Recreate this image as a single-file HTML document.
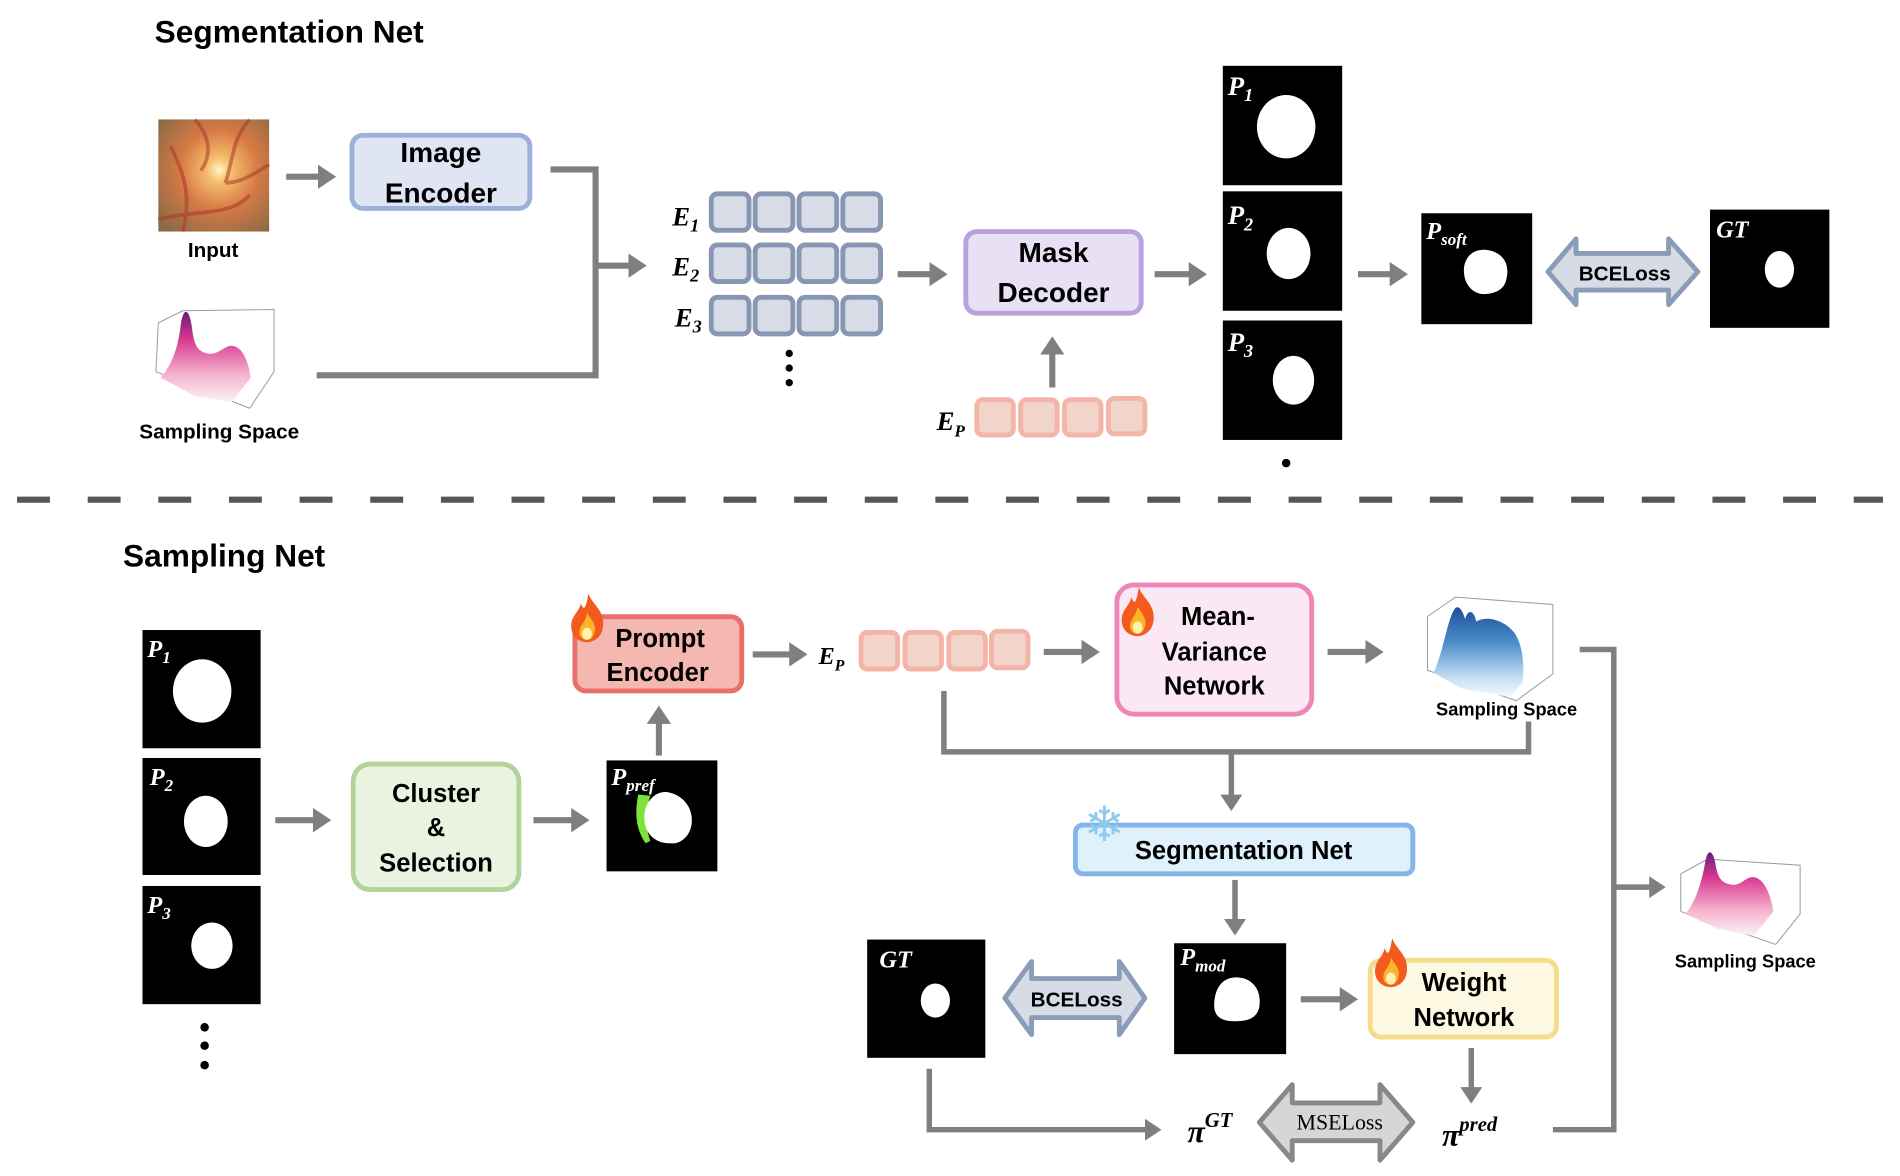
<!DOCTYPE html>
<html><head><meta charset="utf-8"><style>
html,body{margin:0;padding:0;background:#fff}
svg{display:block}
.t{font-family:"Liberation Sans",sans-serif;font-weight:bold;fill:#000}
.m{font-family:"Liberation Serif",serif;font-weight:bold;font-style:italic;fill:#000}
.mw{font-family:"Liberation Serif",serif;font-weight:bold;font-style:italic;fill:#fff}
</style></head><body>
<svg width="1900" height="1176" viewBox="0 0 1560 965" preserveAspectRatio="none" xmlns="http://www.w3.org/2000/svg">
<defs>
<marker id="ah" markerWidth="4" markerHeight="4" refX="2.2" refY="2" orient="auto" markerUnits="strokeWidth">
<path d="M0,0 L3,2 L0,4 Z" fill="#7f7f7f"/></marker>
<radialGradient id="fund" cx="0.55" cy="0.45" r="0.7">
<stop offset="0" stop-color="#fff6c0"/><stop offset="0.15" stop-color="#f6c070"/><stop offset="0.5" stop-color="#d77a45"/><stop offset="1" stop-color="#8a6a45"/></radialGradient>
<linearGradient id="pink" x1="0" y1="0" x2="0" y2="1"><stop offset="0" stop-color="#6a1a7a"/><stop offset="0.3" stop-color="#d8388f"/><stop offset="0.7" stop-color="#f5b4cf"/><stop offset="1" stop-color="#fdf2f4"/></linearGradient>
<linearGradient id="blue" x1="0" y1="0" x2="0" y2="1"><stop offset="0" stop-color="#1f4f9a"/><stop offset="0.4" stop-color="#4d8fcc"/><stop offset="0.8" stop-color="#c9e2f3"/><stop offset="1" stop-color="#f4f9fd"/></linearGradient>
<g id="flame"><path d="M14,0 C18,10 28,14 26,28 C25,36 18,40 13,40 C6,40 0,35 0,27 C0,18 6,16 8,8 C10,14 12,14 14,0 Z" fill="#f25a1e"/><path d="M13,16 C17,22 21,26 19,32 C18,37 15,38 13,38 C9,38 6,35 7,30 C8,25 12,23 13,16 Z" fill="#fbb52a"/><ellipse cx="13" cy="33" rx="4" ry="5" fill="#fff3b0"/></g>
</defs>

<!-- TOP -->
<text x="127" y="35" class="t" font-size="26">Segmentation Net</text>

<rect x="130" y="98" width="91" height="92" fill="url(#fund)"/>
<path d="M160,98 C175,115 172,130 165,140 M205,98 C190,115 192,130 185,150 M130,180 C160,172 190,178 205,160 M140,120 C150,140 158,160 150,190 M185,150 C200,150 212,140 221,135" stroke="#a8382a" stroke-width="3" fill="none" opacity="0.55"/>
<text x="175" y="211" class="t" font-size="17" text-anchor="middle">Input</text>

<line x1="235" y1="145" x2="272" y2="145" stroke="#7f7f7f" stroke-width="5" marker-end="url(#ah)"/>
<rect x="289" y="111" width="146" height="60" rx="9" fill="#dfe5f3" stroke="#9db0dc" stroke-width="4"/>
<text x="362" y="133" class="t" font-size="23" text-anchor="middle">Image</text>
<text x="362" y="166" class="t" font-size="23" text-anchor="middle">Encoder</text>

<g>
<path d="M130,265 L150,255 L225,254 L225,305 L205,335 L128,305 Z" fill="none" stroke="#999" stroke-width="0.8"/>
<path d="M132,310 C140,300 145,290 148,270 C150,250 156,252 158,272 C160,285 163,288 170,290 C180,292 185,282 192,284 C200,286 204,298 206,310 L190,330 L160,325 Z" fill="url(#pink)"/>
</g>
<text x="180" y="360" class="t" font-size="17" text-anchor="middle">Sampling Space</text>

<polyline points="452,139 489,139 489,308 260,308" fill="none" stroke="#7f7f7f" stroke-width="5"/>
<line x1="489" y1="218" x2="527" y2="218" stroke="#7f7f7f" stroke-width="5" marker-end="url(#ah)"/>

<text x="552" y="185" class="m" font-size="22">E<tspan font-size="15" dy="5">1</tspan></text>
<text x="552" y="226" class="m" font-size="22">E<tspan font-size="15" dy="5">2</tspan></text>
<text x="554" y="268" class="m" font-size="22">E<tspan font-size="15" dy="5">3</tspan></text>
<g fill="#d7dce7" stroke="#8796b2" stroke-width="4">
<rect x="584" y="159" width="31" height="30" rx="5"/><rect x="620" y="159" width="31" height="30" rx="5"/><rect x="656" y="159" width="31" height="30" rx="5"/><rect x="692" y="159" width="31" height="30" rx="5"/>
<rect x="584" y="201" width="31" height="30" rx="5"/><rect x="620" y="201" width="31" height="30" rx="5"/><rect x="656" y="201" width="31" height="30" rx="5"/><rect x="692" y="201" width="31" height="30" rx="5"/>
<rect x="584" y="244" width="31" height="30" rx="5"/><rect x="620" y="244" width="31" height="30" rx="5"/><rect x="656" y="244" width="31" height="30" rx="5"/><rect x="692" y="244" width="31" height="30" rx="5"/>
</g>
<circle cx="648" cy="290" r="3"/><circle cx="648" cy="302" r="3"/><circle cx="648" cy="314" r="3"/>

<line x1="737" y1="225" x2="774" y2="225" stroke="#7f7f7f" stroke-width="5" marker-end="url(#ah)"/>
<rect x="793" y="190" width="144" height="67" rx="9" fill="#e8e0f5" stroke="#b9a2dc" stroke-width="4"/>
<text x="865" y="215" class="t" font-size="23" text-anchor="middle">Mask</text>
<text x="865" y="248" class="t" font-size="23" text-anchor="middle">Decoder</text>
<line x1="864" y1="318" x2="864" y2="280" stroke="#7f7f7f" stroke-width="5" marker-end="url(#ah)"/>

<text x="769" y="353" class="m" font-size="22">E<tspan font-size="14" dy="5">P</tspan></text>
<g fill="#f2d5ca" stroke="#f4b4a7" stroke-width="4">
<rect x="802" y="328" width="30" height="29" rx="5"/><rect x="838" y="328" width="30" height="29" rx="5"/><rect x="874" y="328" width="30" height="29" rx="5"/><rect x="910" y="327" width="30" height="29" rx="5"/>
</g>

<rect x="1004" y="54" width="98" height="98" fill="#000"/>
<ellipse cx="1056" cy="104" rx="24" ry="26" fill="#fff"/>
<text x="1008" y="78" class="mw" font-size="22">P<tspan font-size="15" dy="5">1</tspan></text>
<rect x="1004" y="157" width="98" height="98" fill="#000"/>
<ellipse cx="1058" cy="208" rx="18" ry="21" fill="#fff"/>
<text x="1008" y="184" class="mw" font-size="22">P<tspan font-size="15" dy="5">2</tspan></text>
<rect x="1004" y="263" width="98" height="98" fill="#000"/>
<ellipse cx="1062" cy="312" rx="17" ry="20" fill="#fff"/>
<text x="1008" y="288" class="mw" font-size="22">P<tspan font-size="15" dy="5">3</tspan></text>
<circle cx="1056" cy="380" r="3.5"/>

<line x1="948" y1="225" x2="987" y2="225" stroke="#7f7f7f" stroke-width="5" marker-end="url(#ah)"/>
<line x1="1115" y1="225" x2="1152" y2="225" stroke="#7f7f7f" stroke-width="5" marker-end="url(#ah)"/>

<rect x="1167" y="175" width="91" height="91" fill="#000"/>
<path d="M1220,205 C1232,206 1240,215 1237,228 C1236,236 1230,240 1222,241 C1212,243 1203,236 1202,224 C1201,213 1208,204 1220,205 Z" fill="#fff"/>
<text x="1171" y="196" class="mw" font-size="20">P<tspan font-size="14" dy="5">soft</tspan></text>

<path d="M1271,223 L1294,196 L1294,208 L1370,208 L1370,196 L1394,223 L1370,250 L1370,238 L1294,238 L1294,250 Z" fill="#d6dce6" stroke="#8a9cb7" stroke-width="4" stroke-linejoin="round"/>
<text x="1334" y="230" class="t" font-size="17" text-anchor="middle">BCELoss</text>

<rect x="1404" y="172" width="98" height="97" fill="#000"/>
<ellipse cx="1461" cy="221" rx="12" ry="15" fill="#fff"/>
<text x="1409" y="195" class="mw" font-size="20">GT</text>

<line x1="14" y1="410" x2="1546" y2="410" stroke="#555" stroke-width="5" stroke-dasharray="27,31"/>

<!-- BOTTOM -->
<text x="101" y="465" class="t" font-size="26">Sampling Net</text>

<rect x="117" y="517" width="97" height="97" fill="#000"/>
<ellipse cx="166" cy="567" rx="24" ry="26" fill="#fff"/>
<text x="121" y="539" class="mw" font-size="20">P<tspan font-size="14" dy="5">1</tspan></text>
<rect x="117" y="622" width="97" height="96" fill="#000"/>
<ellipse cx="169" cy="674" rx="18" ry="21" fill="#fff"/>
<text x="123" y="644" class="mw" font-size="20">P<tspan font-size="14" dy="5">2</tspan></text>
<rect x="117" y="727" width="97" height="97" fill="#000"/>
<ellipse cx="174" cy="776" rx="17" ry="19" fill="#fff"/>
<text x="121" y="749" class="mw" font-size="20">P<tspan font-size="14" dy="5">3</tspan></text>
<circle cx="168" cy="843" r="3.5"/><circle cx="168" cy="858" r="3.5"/><circle cx="168" cy="874" r="3.5"/>

<line x1="226" y1="673" x2="268" y2="673" stroke="#7f7f7f" stroke-width="5" marker-end="url(#ah)"/>
<rect x="290" y="627" width="136" height="103" rx="14" fill="#e9f3e0" stroke="#b4d39b" stroke-width="4"/>
<text x="358" y="658" class="t" font-size="21" text-anchor="middle">Cluster</text>
<text x="358" y="686" class="t" font-size="21" text-anchor="middle">&amp;</text>
<text x="358" y="715" class="t" font-size="21" text-anchor="middle">Selection</text>
<line x1="438" y1="673" x2="480" y2="673" stroke="#7f7f7f" stroke-width="5" marker-end="url(#ah)"/>

<rect x="498" y="624" width="91" height="91" fill="#000"/>
<path d="M524,652 C521,668 522,680 530,692 L534,690 C530,680 530,665 534,653 Z" fill="#7ee23a"/>
<path d="M548,650 C560,652 569,662 568,675 C567,686 559,693 550,692 C538,692 529,684 529,671 C529,659 537,649 548,650 Z" fill="#fff"/>
<text x="502" y="644" class="mw" font-size="20">P<tspan font-size="14" dy="5">pref</tspan></text>
<line x1="541" y1="620" x2="541" y2="583" stroke="#7f7f7f" stroke-width="5" marker-end="url(#ah)"/>

<rect x="472" y="506" width="137" height="61" rx="9" fill="#f4b8b0" stroke="#e86f6c" stroke-width="4"/>
<use href="#flame" x="469" y="487"/>
<text x="542" y="531" class="t" font-size="21" text-anchor="middle">Prompt</text>
<text x="540" y="559" class="t" font-size="21" text-anchor="middle">Encoder</text>

<line x1="618" y1="537" x2="659" y2="537" stroke="#7f7f7f" stroke-width="5" marker-end="url(#ah)"/>
<text x="672" y="545" class="m" font-size="20">E<tspan font-size="13" dy="5">P</tspan></text>
<g fill="#f2d5ca" stroke="#f4b4a7" stroke-width="4">
<rect x="707" y="519" width="30" height="30" rx="5"/><rect x="743" y="519" width="30" height="30" rx="5"/><rect x="779" y="519" width="30" height="30" rx="5"/><rect x="814" y="518" width="30" height="30" rx="5"/>
</g>

<line x1="857" y1="535" x2="899" y2="535" stroke="#7f7f7f" stroke-width="5" marker-end="url(#ah)"/>
<rect x="917" y="480" width="160" height="106" rx="14" fill="#fbe8f4" stroke="#ee87b7" stroke-width="4"/>
<use href="#flame" x="921" y="482"/>
<text x="1000" y="513" class="t" font-size="21" text-anchor="middle">Mean-</text>
<text x="997" y="542" class="t" font-size="21" text-anchor="middle">Variance</text>
<text x="997" y="570" class="t" font-size="21" text-anchor="middle">Network</text>
<line x1="1090" y1="535" x2="1132" y2="535" stroke="#7f7f7f" stroke-width="5" marker-end="url(#ah)"/>

<g>
<path d="M1172,506 L1195,490 L1275,496 L1275,553 L1245,575 L1172,550 Z" fill="none" stroke="#999" stroke-width="0.8"/>
<path d="M1177,552 C1185,535 1188,510 1194,500 C1198,495 1201,502 1203,508 C1205,500 1210,500 1212,510 C1220,505 1235,508 1244,520 C1250,530 1252,545 1250,560 L1240,572 L1200,565 Z" fill="url(#blue)"/>
</g>
<text x="1237" y="587" class="t" font-size="15" text-anchor="middle">Sampling Space</text>

<polyline points="775,567 775,617 1255,617 1255,592" fill="none" stroke="#7f7f7f" stroke-width="4.5"/>
<line x1="1011" y1="617" x2="1011" y2="662" stroke="#7f7f7f" stroke-width="4.5" marker-end="url(#ah)"/>

<rect x="883" y="677" width="277" height="40" rx="6" fill="#dff2fb" stroke="#84b5ea" stroke-width="4"/>
<text x="890" y="690" font-size="40" fill="#8ccaf0" font-family="DejaVu Sans,sans-serif">❄</text>
<text x="1021" y="705" class="t" font-size="21" text-anchor="middle">Segmentation Net</text>
<line x1="1014" y1="722" x2="1014" y2="764" stroke="#7f7f7f" stroke-width="4.5" marker-end="url(#ah)"/>

<rect x="712" y="771" width="97" height="97" fill="#000"/>
<ellipse cx="768" cy="821" rx="12" ry="14" fill="#fff"/>
<text x="722" y="794" class="mw" font-size="20">GT</text>

<path d="M825,819 L847,789 L847,803 L919,803 L919,789 L940,819 L919,849 L919,835 L847,835 L847,849 Z" fill="#d6dce6" stroke="#8a9cb7" stroke-width="4" stroke-linejoin="round"/>
<text x="884" y="826" class="t" font-size="17" text-anchor="middle">BCELoss</text>

<rect x="964" y="774" width="92" height="91" fill="#000"/>
<path d="M1015,802 C1028,802 1036,812 1034,826 C1032,836 1024,838 1014,838 C1002,838 996,834 997,822 C998,810 1004,802 1015,802 Z" fill="#fff"/>
<text x="969" y="792" class="mw" font-size="20">P<tspan font-size="14" dy="5">mod</tspan></text>

<line x1="1068" y1="820" x2="1111" y2="820" stroke="#7f7f7f" stroke-width="5" marker-end="url(#ah)"/>
<rect x="1125" y="788" width="153" height="63" rx="9" fill="#fdf8e2" stroke="#f5dc8a" stroke-width="4"/>
<use href="#flame" x="1129" y="770"/>
<text x="1202" y="813" class="t" font-size="21" text-anchor="middle">Weight</text>
<text x="1202" y="842" class="t" font-size="21" text-anchor="middle">Network</text>
<line x1="1208" y1="860" x2="1208" y2="902" stroke="#7f7f7f" stroke-width="4.5" marker-end="url(#ah)"/>

<polyline points="763,877 763,927 950,927" fill="none" stroke="#7f7f7f" stroke-width="4.5" marker-end="url(#ah)"/>
<text x="975" y="937" class="m" font-size="26">π<tspan font-size="17" dy="-12">GT</tspan></text>
<path d="M1034,921 L1061,890 L1061,905 L1133,905 L1133,890 L1160,921 L1133,952 L1133,936 L1061,936 L1061,952 Z" fill="#d6d6d6" stroke="#888" stroke-width="4" stroke-linejoin="round"/>
<text x="1100" y="927" font-family="Liberation Serif,serif" font-size="18" text-anchor="middle" fill="#000">MSELoss</text>
<text x="1184" y="940" class="m" font-size="26">π<tspan font-size="17" dy="-12">pred</tspan></text>

<polyline points="1275,927 1325,927 1325,533 1297,533" fill="none" stroke="#7f7f7f" stroke-width="4.5"/>
<line x1="1325" y1="728" x2="1364" y2="728" stroke="#7f7f7f" stroke-width="4.5" marker-end="url(#ah)"/>

<g>
<path d="M1380,717 L1402,705 L1478,710 L1478,750 L1458,775 L1380,748 Z" fill="none" stroke="#999" stroke-width="0.8"/>
<path d="M1384,750 C1392,740 1397,725 1400,708 C1402,695 1407,697 1409,712 C1411,722 1415,725 1422,726 C1430,727 1434,718 1441,720 C1449,722 1454,735 1456,748 L1440,768 L1410,762 Z" fill="url(#pink)"/>
</g>
<text x="1433" y="794" class="t" font-size="15" text-anchor="middle">Sampling Space</text>
</svg>
</body></html>
